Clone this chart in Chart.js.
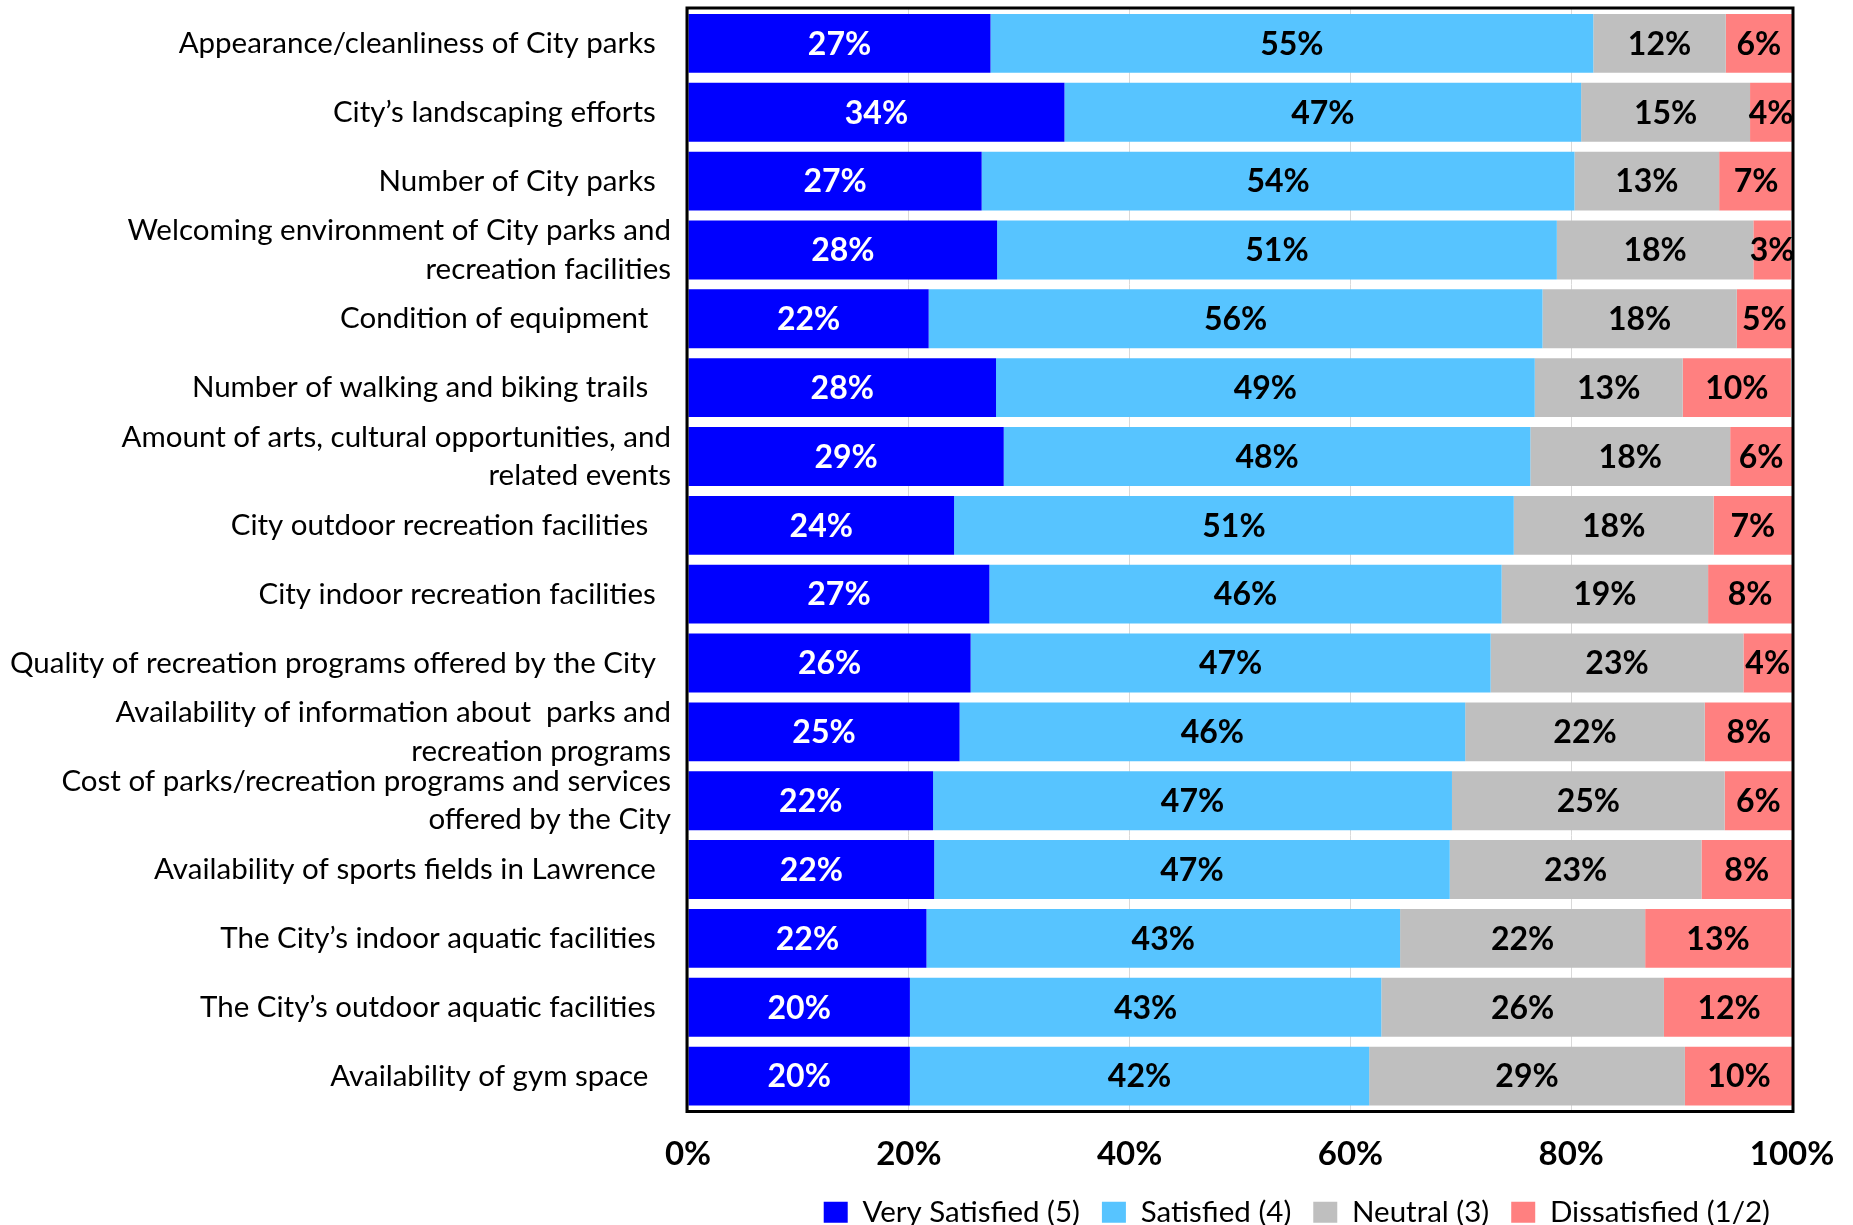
<!DOCTYPE html>
<html lang="en">
<head>
    <meta charset="UTF-8">
    <title>Parks and Recreation Satisfaction</title>
    <style>
        body {
            margin: 0;
            background: #fff;
        }
        #wrap {
            width: 1853px;
            height: 1225px;
            position: relative;
        }
    </style>
</head>
<body>
    <div id="wrap">
        <canvas id="satChart"></canvas>
    </div>

    <script src="https://cdn.jsdelivr.net/npm/chart.js"></script>
    <script>
        // categories, top to bottom (trailing spaces mimic the original label offsets)
        const categories = [
            'Appearance/cleanliness of City parks  ',
            'City\u2019s landscaping efforts  ',
            'Number of City parks  ',
            ['Welcoming environment of City parks and', 'recreation facilities'],
            'Condition of equipment   ',
            'Number of walking and biking trails   ',
            ['Amount of arts, cultural opportunities, and', 'related events'],
            'City outdoor recreation facilities   ',
            'City indoor recreation facilities  ',
            'Quality of recreation programs offered by the City  ',
            ['Availability of information about  parks and', 'recreation programs'],
            ['Cost of parks/recreation programs and services', 'offered by the City'],
            'Availability of sports fields in Lawrence  ',
            'The City\u2019s indoor aquatic facilities  ',
            'The City\u2019s outdoor aquatic facilities  ',
            'Availability of gym space   '
        ];

        const seriesNames = ['Very Satisfied (5)', 'Satisfied (4)', 'Neutral (3)', 'Dissatisfied (1/2)'];

        const verySatisfied = [27.4, 34.1, 26.6, 28.0, 21.8, 27.9, 28.6, 24.1, 27.3, 25.6, 24.6, 22.2, 22.3, 21.6, 20.1, 20.1];
        const satisfied     = [54.6, 46.8, 53.7, 50.7, 55.6, 48.8, 47.7, 50.7, 46.4, 47.1, 45.8, 47.0, 46.7, 42.9, 42.7, 41.6];
        const neutral       = [12.0, 15.3, 13.1, 17.8, 17.6, 13.4, 18.1, 18.1, 18.7, 22.9, 21.7, 24.7, 22.8, 22.2, 25.6, 28.6];
        const dissatisfied  = [ 6.0,  3.8,  6.7,  3.4,  5.0,  9.8,  5.6,  7.1,  7.6,  4.4,  8.0,  6.1,  8.2, 13.2, 11.8,  9.8];

        const xTicks = [0, 20, 40, 60, 80, 100];

        const colors = ['#0000FF', '#57C4FF', '#BFBFBF', '#FF8080'];
        const labelColors = ['#FFFFFF', '#000000', '#000000', '#000000'];

        const FONT = 'Lato, "Noto Sans", sans-serif';

        // value labels centred in each segment
        const segmentLabels = {
            id: 'segmentLabels',
            afterDatasetsDraw(chart) {
                const ctx = chart.ctx;
                ctx.save();
                ctx.font = 'bold 32px ' + FONT;
                ctx.textAlign = 'center';
                ctx.textBaseline = 'middle';
                chart.data.datasets.forEach((ds, i) => {
                    const meta = chart.getDatasetMeta(i);
                    ctx.fillStyle = labelColors[i];
                    meta.data.forEach((bar, j) => {
                        const cx = (bar.x + bar.base) / 2;
                        ctx.fillText(Math.round(ds.data[j]) + '%', cx, bar.y + 1);
                    });
                });
                ctx.restore();
            }
        };

        // black frame round the plot area
        const plotFrame = {
            id: 'plotFrame',
            afterDraw(chart) {
                const a = chart.chartArea;
                const ctx = chart.ctx;
                ctx.save();
                ctx.strokeStyle = '#000';
                ctx.lineWidth = 3;
                ctx.strokeRect(a.left - 1, a.top - 1, a.right - a.left + 2, a.bottom - a.top + 2);
                ctx.restore();
            }
        };

        const ctx = document.getElementById('satChart').getContext('2d');
        new Chart(ctx, {
            type: 'bar',
            data: {
                labels: categories,
                datasets: [
                    { label: seriesNames[0], data: verySatisfied, backgroundColor: colors[0] },
                    { label: seriesNames[1], data: satisfied, backgroundColor: colors[1] },
                    { label: seriesNames[2], data: neutral, backgroundColor: colors[2] },
                    { label: seriesNames[3], data: dissatisfied, backgroundColor: colors[3] }
                ]
            },
            options: {
                indexAxis: 'y',
                responsive: true,
                maintainAspectRatio: false,
                animation: false,
                datasets: {
                    bar: {
                        categoryPercentage: 1,
                        barPercentage: 0.855,
                        borderWidth: 0
                    }
                },
                layout: {
                    padding: { top: 9, right: 61, left: 0, bottom: -12 }
                },
                scales: {
                    x: {
                        stacked: true,
                        min: 0,
                        max: 100,
                        afterBuildTicks: scale => {
                            scale.ticks = xTicks.map(v => ({ value: v }));
                        },
                        afterFit: scale => {
                            scale.height = 65;
                            scale.paddingLeft = 0;
                            scale.paddingRight = 0;
                        },
                        grid: { color: '#D9D9D9', lineWidth: 1, drawTicks: false },
                        border: { display: false },
                        ticks: {
                            padding: 24,
                            color: '#000',
                            font: { family: FONT, size: 33, weight: 'bold' },
                            callback: v => v + '%'
                        }
                    },
                    y: {
                        stacked: true,
                        afterFit: scale => {
                            scale.width = 688;
                            scale.paddingTop = 0;
                            scale.paddingBottom = 0;
                        },
                        grid: { display: false, drawTicks: false },
                        border: { display: false },
                        ticks: {
                            autoSkip: false,
                            padding: 17,
                            color: '#000',
                            font: { family: FONT, size: 29.5, lineHeight: 1.3 }
                        }
                    }
                },
                plugins: {
                    legend: {
                        position: 'bottom',
                        align: 'end',
                        labels: {
                            color: '#000',
                            boxWidth: 24,
                            boxHeight: 21,
                            padding: 22,
                            font: { family: FONT, size: 29.5 }
                        }
                    },
                    tooltip: { enabled: false }
                }
            },
            plugins: [segmentLabels, plotFrame]
        });
    </script>
</body>
</html>
